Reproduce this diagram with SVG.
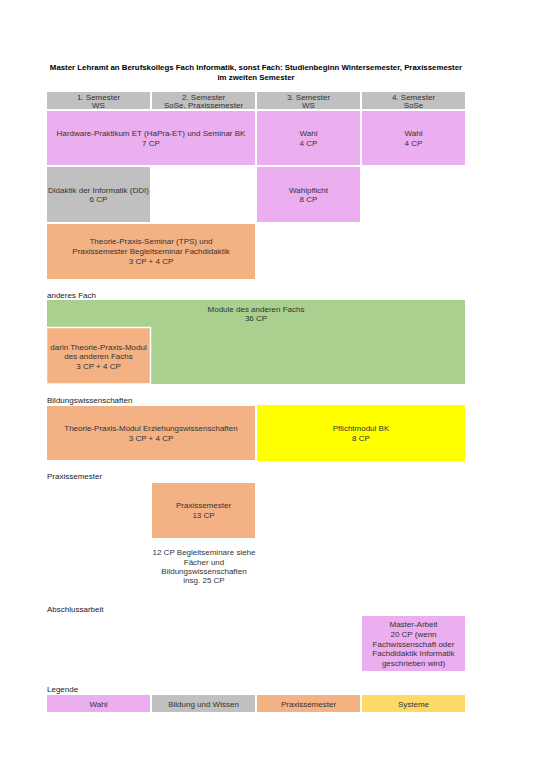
<svg xmlns="http://www.w3.org/2000/svg" width="541" height="766" viewBox="0 0 541 766">
<style>
text{font-family:"Liberation Sans",Arial,sans-serif;font-size:8px;fill:#333333}
.c{text-anchor:middle}
.t{font-weight:bold;fill:#000000;font-size:7.85px}
.lbl{fill:#222222}
.pink{fill:#EBAEEE}
.gray{fill:#C0C0C0}
.orange{fill:#F4B183}
.green{fill:#A9D08E}
.yellow{fill:#FFFF00}
.sys{fill:#FFD966}
</style>
<rect width="541" height="766" fill="#ffffff"/>
<g id="title">
<text class="c t" x="256" y="69.5">Master Lehramt an Berufskollegs Fach Informatik, sonst Fach: Studienbeginn Wintersemester, Praxissemester</text>
<text class="c t" x="256" y="79.5">im zweiten Semester</text>
</g>
<g id="header">
<rect class="gray" x="47" y="92" width="103" height="17"/>
<rect class="gray" x="152" y="92" width="103" height="17"/>
<rect class="gray" x="257" y="92" width="103" height="17"/>
<rect class="gray" x="362" y="92" width="103" height="17"/>
<text class="c" x="98.5" y="99.5">1. Semester</text><text class="c" x="98.5" y="108">WS</text>
<text class="c" x="203.5" y="99.5">2. Semester</text><text class="c" x="203.5" y="108">SoSe, Praxissemester</text>
<text class="c" x="308.5" y="99.5">3. Semester</text><text class="c" x="308.5" y="108">WS</text>
<text class="c" x="413.5" y="99.5">4. Semester</text><text class="c" x="413.5" y="108">SoSe</text>
</g>
<g id="hapra">
<rect class="pink" x="47" y="111" width="208" height="54"/>
<text class="c" x="151" y="136">Hardware-Praktikum ET (HaPra-ET) und Seminar BK</text>
<text class="c" x="151" y="146">7 CP</text>
</g>
<g id="wahl3">
<rect class="pink" x="257" y="111" width="103" height="54"/>
<text class="c" x="308.5" y="136">Wahl</text><text class="c" x="308.5" y="146">4 CP</text>
</g>
<g id="wahl4">
<rect class="pink" x="362" y="111" width="103" height="54"/>
<text class="c" x="413.5" y="136">Wahl</text><text class="c" x="413.5" y="146">4 CP</text>
</g>
<g id="ddi">
<rect class="gray" x="47" y="167" width="103" height="55"/>
<text class="c" x="98.5" y="193">Didaktik der Informatik (DDI)</text><text class="c" x="98.5" y="202">6 CP</text>
</g>
<g id="wahlpflicht">
<rect class="pink" x="257" y="167" width="103" height="55"/>
<text class="c" x="308.5" y="193">Wahlpflicht</text><text class="c" x="308.5" y="202">8 CP</text>
</g>
<g id="tps">
<rect class="orange" x="47" y="224" width="208" height="55"/>
<text class="c" x="151" y="244">Theorie-Praxis-Seminar (TPS) und</text>
<text class="c" x="151" y="254">Praxissemester Begleitseminar Fachdidaktik</text>
<text class="c" x="151" y="263.5">3 CP + 4 CP</text>
</g>
<text class="lbl" x="47" y="298">anderes Fach</text>
<g id="anderesfach">
<rect class="green" x="47" y="300" width="418" height="84"/>
<text class="c" x="256" y="312">Module des anderen Fachs</text>
<text class="c" x="256" y="321">36 CP</text>
</g>
<g id="tpm-fach">
<rect class="orange" x="46.5" y="327.5" width="104" height="56.5" stroke="#ffffff" stroke-width="1.5"/>
<text class="c" x="98.5" y="350">darin Theorie-Praxis-Modul</text>
<text class="c" x="98.5" y="359">des anderen Fachs</text>
<text class="c" x="98.5" y="368.5">3 CP + 4 CP</text>
</g>
<text class="lbl" x="47" y="402.5">Bildungswissenschaften</text>
<g id="tpm-ew">
<rect class="orange" x="47" y="406" width="208" height="54"/>
<text class="c" x="151" y="431">Theorie-Praxis-Modul Erziehungswissenschaften</text>
<text class="c" x="151" y="441">3 CP + 4 CP</text>
</g>
<g id="pflicht">
<rect class="yellow" x="257" y="405" width="208" height="56"/>
<text class="c" x="361" y="431">Pflichtmodul BK</text>
<text class="c" x="361" y="441">8 CP</text>
</g>
<text class="lbl" x="47" y="479">Praxissemester</text>
<g id="praxissemester">
<rect class="orange" x="152" y="483" width="103" height="55"/>
<text class="c" x="203.5" y="508">Praxissemester</text>
<text class="c" x="203.5" y="518">13 CP</text>
<text class="c" x="204" y="554.5">12 CP Begleitseminare siehe</text>
<text class="c" x="204" y="564.5">Fächer und</text>
<text class="c" x="204" y="574">Bildungswissenschaften</text>
<text class="c" x="204" y="583">insg. 25 CP</text>
</g>
<text class="lbl" x="47" y="612">Abschlussarbeit</text>
<g id="master">
<rect class="pink" x="362" y="616" width="103" height="55"/>
<text class="c" x="413.5" y="627">Master-Arbeit</text>
<text class="c" x="413.5" y="637">20 CP (wenn</text>
<text class="c" x="413.5" y="646.5">Fachwissenschaft oder</text>
<text class="c" x="413.5" y="656">Fachdidaktik Informatik</text>
<text class="c" x="413.5" y="666">geschrieben wird)</text>
</g>
<text class="lbl" x="47" y="691.5">Legende</text>
<g id="legend">
<rect class="pink" x="47" y="695" width="103" height="17"/>
<rect class="gray" x="152" y="695" width="103" height="17"/>
<rect class="orange" x="257" y="695" width="103" height="17"/>
<rect class="sys" x="362" y="695" width="103" height="17"/>
<text class="c" x="98.5" y="706.5">Wahl</text>
<text class="c" x="203.5" y="706.5">Bildung und Wissen</text>
<text class="c" x="308.5" y="706.5">Praxissemester</text>
<text class="c" x="413.5" y="706.5">Systeme</text>
</g>
</svg>
